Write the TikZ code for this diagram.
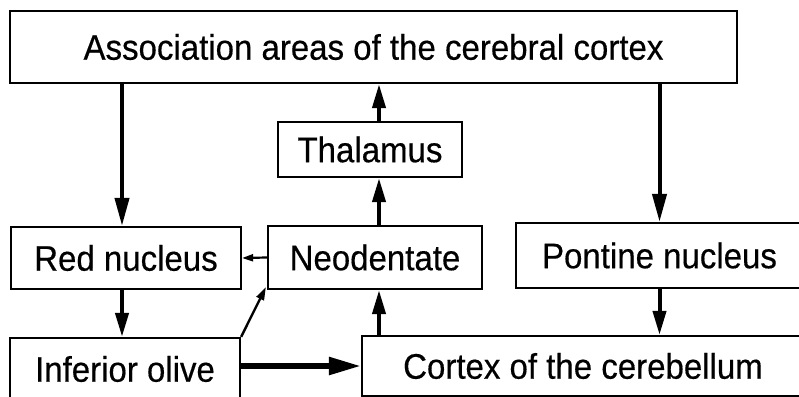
\documentclass[tikz,border=0pt]{standalone}
\usepackage{fontspec}
\setmainfont{Liberation Sans}[FakeStretch=0.93, FakeBold=0.4]
\usetikzlibrary{arrows.meta}
\begin{document}
\begin{tikzpicture}[x=1pt,y=-1pt,
  box/.style={draw, line width=2.2pt, inner sep=0pt, font=\fontsize{35.5}{40}\selectfont},
  arr/.style={line width=4pt, -{Triangle[length=28pt,width=14pt]}},
  sarr/.style={line width=4pt, -{Triangle[length=24pt,width=13pt]}},
  tiny/.style={line width=2.2pt, -{Triangle[length=11pt,width=7pt]}},
  thick arr/.style={line width=5.5pt, -{Triangle[length=32pt,width=17pt]}}]
\useasboundingbox (0,0) rectangle (799,396);
\clip (0,0) rectangle (799,396);
\fill[white] (0,0) rectangle (799,396);
\coordinate (xL) at (122,0);
\coordinate (xM) at (379,0);
\node[box, minimum width=727pt, minimum height=72pt] (top) at (373.5,47) {Association areas of the cerebral cortex};
\node[box, minimum width=184pt, minimum height=55pt] (thal) at (370,149.5) {Thalamus};
\node[box, minimum width=230pt, minimum height=62pt] (red) at (126,258) {Red nucleus};
\node[box, minimum width=214pt, minimum height=63pt] (neo) at (375,257.5) {Neodentate};
\node[box, minimum width=287pt, minimum height=65pt] (pont) at (659.5,255.5) {Pontine nucleus};
\node[box, minimum width=230pt, minimum height=62pt] (inf) at (125,369) {Inferior olive};
\node[box, minimum width=442pt, minimum height=60pt] (cor) at (583,366) {Cortex of the cerebellum};
\draw[arr] (top.south -| xL) -- (red.north -| xL);
\draw[arr] (top.south -| pont.north) -- (pont.north);
\draw[sarr] (thal.north -| xM) -- (top.south -| xM);
\draw[sarr] (neo.north -| xM) -- (thal.south -| xM);
\draw[tiny] (neo.west) -- (red.east);
\draw[sarr] (red.south -| xL) -- (inf.north -| xL);
\draw[line width=2.4pt, -{Triangle[length=13pt,width=8pt]}] (inf.north east) -- ([shift={(-1pt,3pt)}]neo.south west);
\draw[thick arr] (inf.east |- cor.west) -- (cor.west);
\draw[sarr] (cor.north -| xM) -- (neo.south -| xM);
\draw[sarr] (pont.south) -- (cor.north -| pont.south);
\end{tikzpicture}
\end{document}
